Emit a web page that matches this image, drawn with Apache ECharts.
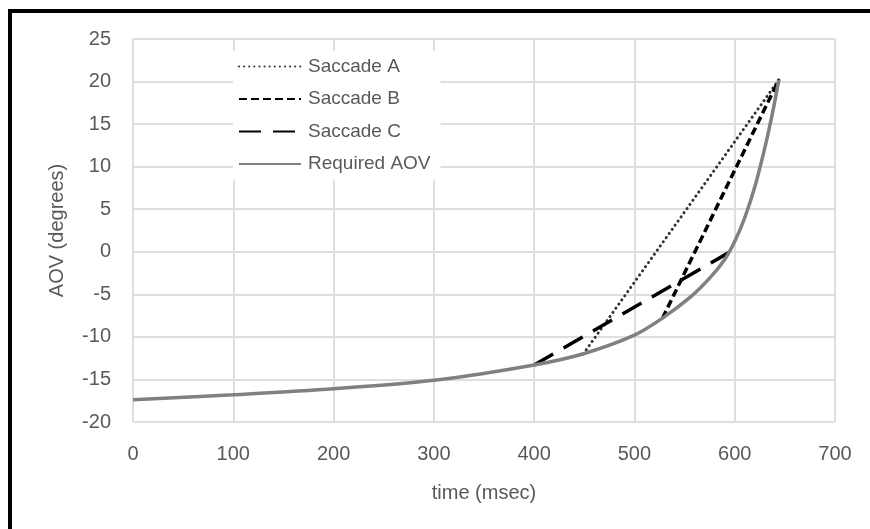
<!DOCTYPE html>
<html>
<head>
<meta charset="utf-8">
<script src="https://cdn.jsdelivr.net/npm/echarts@6/dist/echarts.min.js"></script>
<style>
  html, body { margin: 0; padding: 0; background: #fff; }
  #chart { width: 870px; height: 529px; }
</style>
</head>
<body>
<div id="chart"></div>
<script>
// required angle-of-view curve
const requiredT = [0, 100, 200, 300, 400, 450, 500, 528, 556, 575, 590, 600, 610, 620, 630, 638, 644];
const requiredV = [-17.4, -16.8, -16.1, -15.1, -13.3, -11.95, -9.8, -7.8, -5.3, -3.1, -0.9, 1.2, 4.0, 7.6, 12.2, 16.5, 20.2];

// saccades are straight runs between two points
const saccadeAT = [449, 644];
const saccadeAV = [-12.0, 20.2];
const saccadeBT = [528, 644];
const saccadeBV = [-7.8, 20.2];
const saccadeCT = [400, 594];
const saccadeCV = [-13.3, -0.1];

const xTicks = [0, 100, 200, 300, 400, 500, 600, 700];
const yTicks = [-20, -15, -10, -5, 0, 5, 10, 15, 20, 25];

function pairs(ts, vs) {
  let out = [];
  for (let i = 0; i < ts.length; i++) {
    out.push([ts[i], vs[i]]);
  }
  return out;
}

const font = "'Liberation Sans', Arial, sans-serif";
const textColor = '#595959';
const gridColor = '#dedede';

let myChart = echarts.init(document.getElementById('chart'));

let option = {
  backgroundColor: '#fff',
  animation: false,
  graphic: [
    { type: 'rect', shape: { x: 8, y: 9, width: 862, height: 4 }, style: { fill: '#000' } },
    { type: 'rect', shape: { x: 8, y: 9, width: 4, height: 520 }, style: { fill: '#000' } }
  ],
  grid: {
    left: 133,
    right: 35,
    top: 39,
    bottom: 107,
    containLabel: false,
    outerBoundsMode: 'none'
  },
  legend: {
    orient: 'vertical',
    left: 233,
    top: 51,
    padding: [6, 10, 6, 5],
    backgroundColor: '#fff',
    itemWidth: 62,
    itemHeight: 20,
    itemGap: 13.5,
    itemStyle: { opacity: 0 },
    textStyle: { fontFamily: font, fontSize: 19, color: textColor, padding: [0, 0, 0, 2] },
    data: ['Saccade A', 'Saccade B', 'Saccade C', 'Required AOV']
  },
  xAxis: {
    type: 'value',
    min: xTicks[0],
    max: xTicks[xTicks.length - 1],
    interval: 100,
    name: 'time (msec)',
    nameLocation: 'middle',
    nameGap: 61,
    nameTextStyle: { fontFamily: font, fontSize: 20, color: textColor },
    axisLine: { show: false },
    axisTick: { show: false },
    axisLabel: { margin: 22, fontFamily: font, fontSize: 20, color: textColor },
    splitLine: { show: true, lineStyle: { color: gridColor, width: 2 } }
  },
  yAxis: {
    type: 'value',
    min: yTicks[0],
    max: yTicks[yTicks.length - 1],
    interval: 5,
    name: 'AOV (degrees)',
    nameLocation: 'middle',
    nameRotate: 90,
    nameGap: 66,
    nameTextStyle: { fontFamily: font, fontSize: 20, color: textColor },
    axisLine: { show: false },
    axisTick: { show: false },
    axisLabel: { margin: 22, fontFamily: font, fontSize: 20, color: textColor },
    splitLine: { show: true, lineStyle: { color: gridColor, width: 2 } }
  },
  series: [
    {
      name: 'Saccade A',
      type: 'line',
      symbol: 'none',
      data: pairs(saccadeAT, saccadeAV),
      itemStyle: { color: '#333' },
      lineStyle: { color: '#333', width: 3, type: [0.1, 5], cap: 'round' }
    },
    {
      name: 'Saccade B',
      type: 'line',
      symbol: 'none',
      data: pairs(saccadeBT, saccadeBV),
      itemStyle: { color: '#000' },
      lineStyle: { color: '#000', width: 3.5, type: [8, 4] }
    },
    {
      name: 'Saccade C',
      type: 'line',
      symbol: 'none',
      data: pairs(saccadeCT, saccadeCV),
      itemStyle: { color: '#000' },
      lineStyle: { color: '#000', width: 3.5, type: [22, 12] }
    },
    {
      name: 'Required AOV',
      type: 'line',
      symbol: 'none',
      smooth: 0.3,
      data: pairs(requiredT, requiredV),
      itemStyle: { color: '#808080' },
      lineStyle: { color: '#808080', width: 3.5 }
    }
  ]
};
myChart.setOption(option);
</script>
</body>
</html>
